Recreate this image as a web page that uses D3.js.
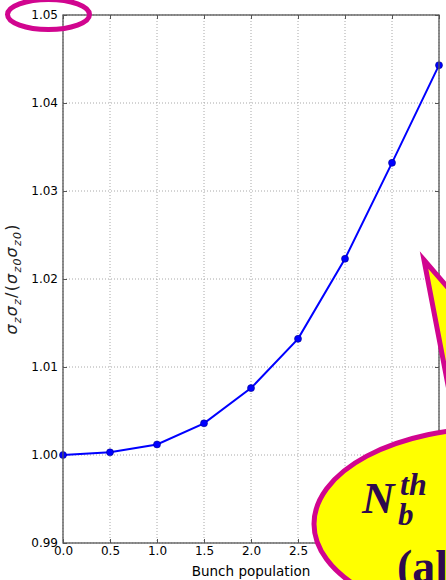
<!DOCTYPE html>
<html>
<head>
<meta charset="utf-8">
<script src="https://cdn.jsdelivr.net/npm/d3@7"></script>
<style>
  html, body { margin: 0; padding: 0; background: #fff; }
  svg { display: block; font-family: "DejaVu Sans", sans-serif; }
</style>
</head>
<body>
<svg id="chart" width="446" height="580"></svg>
<script>
// data
const bunchPop = [0, 0.5, 1.0, 1.5, 2.0, 2.5, 3.0, 3.5, 4.0]
const sizeRatio = [1.0, 1.0003, 1.0012, 1.0036, 1.0076, 1.0132, 1.0223, 1.0332, 1.0443]
const xTicks = [0, 0.5, 1.0, 1.5, 2.0, 2.5, 3.0, 3.5, 4.0]
const yTicks = [0.99, 1.00, 1.01, 1.02, 1.03, 1.04, 1.05]

const svg = d3.select('#chart')
const margin = { left: 63, top: 15, right: 7, bottom: 37 }
const width = 446 - margin.left - margin.right
const height = 580 - margin.top - margin.bottom

const x = d3.scaleLinear().domain([0, 4]).range([0, width])
const y = d3.scaleLinear().domain([0.99, 1.05]).range([height, 0])

const g = svg.append('g').attr('transform', `translate(${margin.left},${margin.top})`)

// dotted grid
const grid = g.append('g').attr('class', 'grid')
grid.selectAll('line.vx')
  .data(xTicks)
  .enter().append('line')
  .attr('x1', d => x(d)).attr('x2', d => x(d))
  .attr('y1', 0).attr('y2', height)
grid.selectAll('line.hy')
  .data(yTicks)
  .enter().append('line')
  .attr('x1', 0).attr('x2', width)
  .attr('y1', d => y(d)).attr('y2', d => y(d))
grid.selectAll('line')
  .attr('stroke', '#a8a8a8')
  .attr('stroke-width', 1)
  .attr('stroke-dasharray', '1,2')

// axes with inward ticks
const styleAxis = sel => {
  sel.select('.domain').remove()
  sel.selectAll('.tick line').attr('stroke', '#555').attr('stroke-width', 1)
  sel.selectAll('.tick text').attr('fill', '#000').attr('font-size', 12)
    .attr('font-family', '"DejaVu Sans", sans-serif')
}
g.append('g')
  .attr('transform', `translate(0,${height})`)
  .call(d3.axisBottom(x).tickValues(xTicks).tickFormat(d3.format('.1f')).tickSizeInner(-4).tickSizeOuter(0).tickPadding(3))
  .call(styleAxis)
g.append('g')
  .call(d3.axisTop(x).tickValues(xTicks).tickFormat('').tickSizeInner(-4).tickSizeOuter(0))
  .call(styleAxis)
g.append('g')
  .call(d3.axisLeft(y).tickValues(yTicks).tickFormat(d3.format('.2f')).tickSizeInner(-4).tickSizeOuter(0).tickPadding(5))
  .call(styleAxis)
g.append('g')
  .attr('transform', `translate(${width},0)`)
  .call(d3.axisRight(y).tickValues(yTicks).tickFormat('').tickSizeInner(-4).tickSizeOuter(0))
  .call(styleAxis)

// series
const pts = bunchPop.map((b, i) => [b, sizeRatio[i]])
g.append('path')
  .datum(pts)
  .attr('fill', 'none')
  .attr('stroke', '#0000ff')
  .attr('stroke-width', 2)
  .attr('d', d3.line().x(d => x(d[0])).y(d => y(d[1])))
g.selectAll('circle.pt')
  .data(pts)
  .enter().append('circle')
  .attr('cx', d => x(d[0]))
  .attr('cy', d => y(d[1]))
  .attr('r', 3.5)
  .attr('fill', '#0000ff')
  .attr('stroke', '#00008b')
  .attr('stroke-width', 0.6)

// frame
g.append('rect')
  .attr('width', width).attr('height', height)
  .attr('fill', 'none')
  .attr('stroke', '#555')
  .attr('stroke-width', 1.3)

// axis labels
svg.append('text')
  .attr('x', margin.left + width / 2)
  .attr('y', 576)
  .attr('text-anchor', 'middle')
  .attr('font-size', 13.5)
  .text('Bunch population')

const yl = svg.append('text')
  .attr('transform', `translate(17,${margin.top + height / 2}) rotate(-90)`)
  .attr('text-anchor', 'middle')
  .attr('font-size', 16)
  .attr('letter-spacing', 1.2)
  .attr('fill', '#222')
const parts = [['σ', 'z'], ['σ', 'z'], ['/(', null], ['σ', 'z0'], ['σ', 'z0'], [')', null]]
let shift = 0
parts.forEach(([main, sub]) => {
  yl.append('tspan')
    .attr('font-style', main === 'σ' ? 'italic' : 'normal')
    .attr('dy', -shift)
    .text(main)
  shift = 0
  if (sub) {
    yl.append('tspan').attr('font-size', 11).attr('font-style', 'italic').attr('dy', 3.5).text(sub)
    shift = 3.5
  }
})

// annotations on top
const magenta = '#d1058f'
svg.append('ellipse')
  .attr('cx', 48.5).attr('cy', 14.5)
  .attr('rx', 41).attr('ry', 15)
  .attr('fill', 'none')
  .attr('stroke', magenta)
  .attr('stroke-width', 5)

svg.append('polygon')
  .attr('points', '424,260 480,325 457,432')
  .attr('fill', '#ffff00')
  .attr('stroke', magenta)
  .attr('stroke-width', 5)
  .attr('stroke-linejoin', 'miter')

svg.append('ellipse')
  .attr('cx', 494).attr('cy', 524)
  .attr('rx', 180).attr('ry', 96)
  .attr('fill', '#ffff00')
  .attr('stroke', magenta)
  .attr('stroke-width', 5)

const ink = '#2d0a4e'
const nb = svg.append('text')
  .attr('x', 362).attr('y', 513)
  .attr('fill', ink)
  .attr('font-family', '"Liberation Serif", "DejaVu Serif", serif')
  .attr('font-weight', 'bold')
  .attr('font-style', 'italic')
nb.append('tspan').attr('font-size', 45).text('N')
nb.append('tspan').attr('x', 400).attr('y', 495).attr('font-size', 32).text('th')
nb.append('tspan').attr('x', 398).attr('y', 525).attr('font-size', 31).text('b')

svg.append('text')
  .attr('x', 397).attr('y', 582)
  .attr('fill', ink)
  .attr('font-family', '"Liberation Serif", "DejaVu Serif", serif')
  .attr('font-weight', 'bold')
  .attr('font-size', 46)
  .text('(all)')
</script>
</body>
</html>
